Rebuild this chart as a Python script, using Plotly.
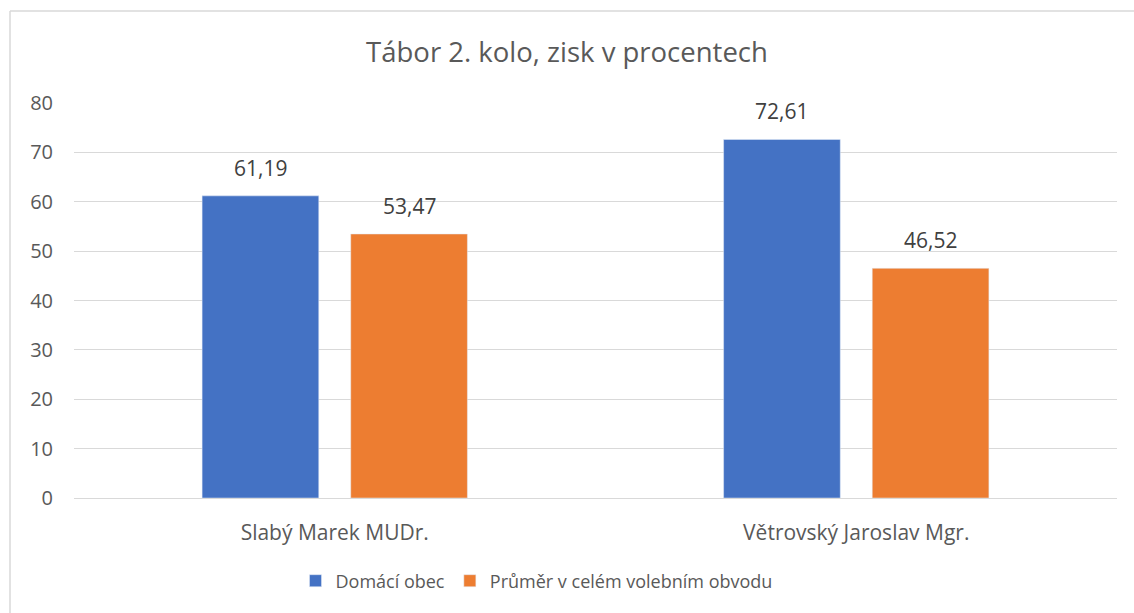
import plotly.graph_objects as go

categories = ["Slabý Marek MUDr.", "Větrovský Jaroslav Mgr."]
series_names = ["Domácí obec", "Průměr v celém volebním obvodu"]
domaci = [61.19, 72.61]
prumer = [53.47, 46.52]
colors = ["#4472C4", "#ED7D31"]
yticks = [0, 10, 20, 30, 40, 50, 60, 70, 80]

FONT = "Open Sans"

def fmt(v):
    return f"{v:.2f}".replace(".", ",")

W, H = 1134, 613
L, R, T, B = 74, 17, 103, 115
pw = W - L - R
ph = H - T - B

BARGAP = 0.43
GROUPGAP = 0.215
slot_px = pw / len(categories) * (1 - BARGAP) / 2
offsets = [-slot_px / 2, slot_px / 2]

fig = go.Figure()
annotations = []
for name, vals, col, off in zip(series_names, [domaci, prumer], colors, offsets):
    fig.add_trace(go.Bar(x=categories, y=vals, name=name, marker_color=col))
    for c, v in zip(categories, vals):
        annotations.append(dict(x=c, y=v, xref="x", yref="y", text=fmt(v), showarrow=False,
                                xshift=off, yanchor="bottom", yshift=12,
                                font=dict(family=FONT, size=21, color="#404040")))

def px(x):
    return (x - L) / pw

def py(y):
    return (H - B - y) / ph

fig.update_layout(
    width=W, height=H,
    margin=dict(l=L, r=R, t=T, b=B),
    paper_bgcolor="white", plot_bgcolor="white",
    barmode="group", bargap=BARGAP, bargroupgap=GROUPGAP,
    annotations=annotations,
    title=dict(text="Tábor 2. kolo, zisk v procentech", x=0.5, xanchor="center",
               y=1 - 52 / H, yanchor="middle", yref="container",
               font=dict(family=FONT, size=27.5, color="#595959")),
    legend=dict(orientation="h", x=0.5 - 59 / pw, xanchor="center", y=1 - 581 / H, yanchor="middle",
                yref="container", font=dict(family=FONT, size=18, color="#595959"),
                itemwidth=30, traceorder="normal"),
    xaxis=dict(showgrid=False, showline=True, linecolor="#D9D9D9", linewidth=1,
               ticks="outside", ticklen=0, ticklabelstandoff=16,
               tickfont=dict(family=FONT, size=21, color="#595959")),
    yaxis=dict(range=[0, 80], tickvals=yticks, showgrid=True, gridcolor="#D9D9D9",
               gridwidth=1, zeroline=False, showline=False,
               ticklabelstandoff=20,
               tickfont=dict(family=FONT, size=20, color="#595959")),
    shapes=[
        dict(type="line", xref="paper", yref="paper", x0=px(10), x1=px(1140), y0=py(11), y1=py(11),
             line=dict(color="#D9D9D9", width=1.5)),
        dict(type="line", xref="paper", yref="paper", x0=px(10), x1=px(10), y0=py(11), y1=py(620),
             line=dict(color="#D9D9D9", width=1.5)),
    ],
)

fig.write_html("out.html", config={"displayModeBar": False},
               post_script="document.body.style.margin='0';document.body.style.overflow='hidden';")
